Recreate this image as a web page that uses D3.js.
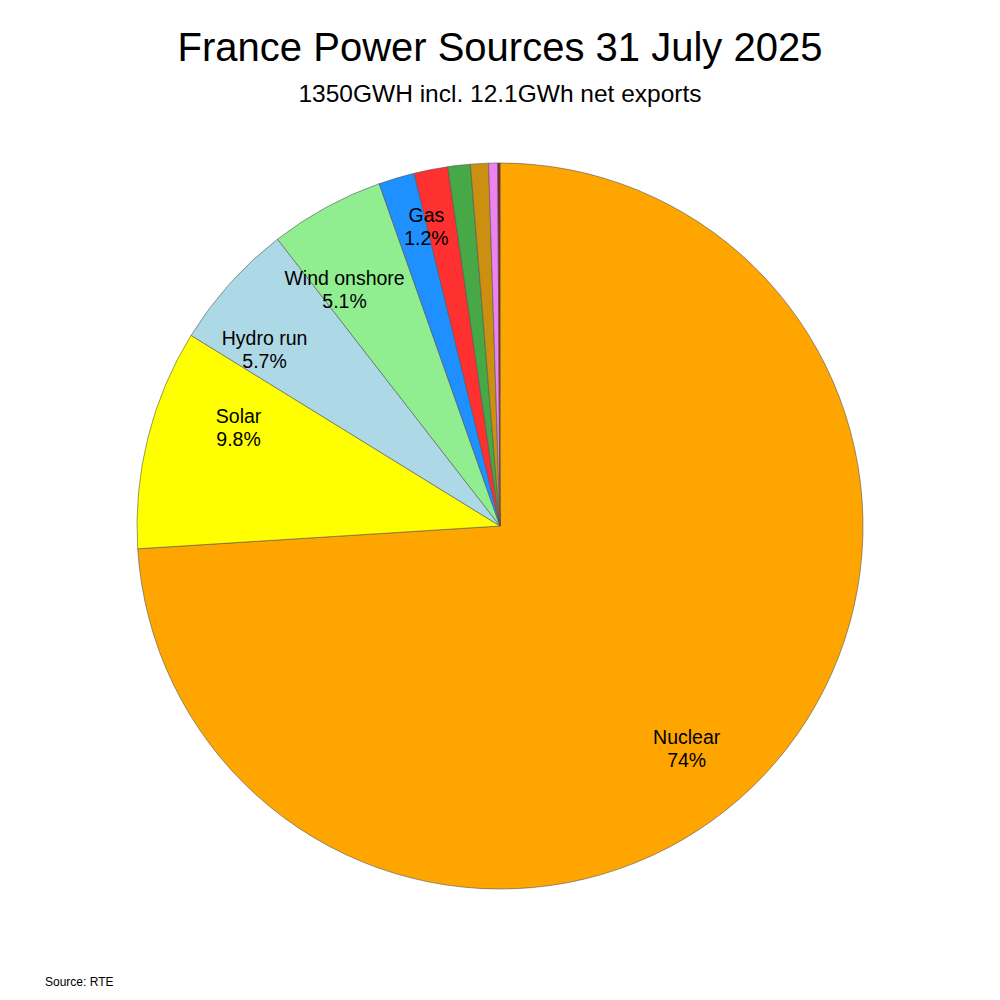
<!DOCTYPE html>
<html><head><meta charset="utf-8">
<script src="https://cdn.jsdelivr.net/npm/d3@7"></script>
<style>body{margin:0;background:#fff}text{font-family:"Liberation Sans",Arial,sans-serif}</style>
</head><body>
<svg id="chart" width="1000" height="1000"></svg>
<script>
// slices clockwise from 12 o'clock
var sources = ["Nuclear","Solar","Hydro run","Wind onshore","Gas","Gas2","Bio","Hydro lake","Other","Coal"]
var shares  = [74, 9.8, 5.7, 5.1, 1.6, 1.5, 1.0, 0.8, 0.4, 0.1]
var colors  = ["#ffa500","#ffff00","#add8e6","#90ee90","#1e90ff","#ff3030","#46a946","#cc9010","#ee82ee","#8b2020"]
var labels  = ["Nuclear\n74%","Solar\n9.8%","Hydro run\n5.7%","Wind onshore\n5.1%","Gas\n1.2%"]
var labelAngle  = [140, 290.7, 306.8, 326.7, 346.2]   // degrees clockwise from top
var labelRadius = [0.80, 0.77, 0.81, 0.78, 0.85]      // fraction of pie radius

var svg = d3.select("#chart")
var cx = 500, cy = 526, r = 363

svg.append("text").attr("x",500).attr("y",61).attr("text-anchor","middle")
  .attr("font-size","40px").text("France Power Sources 31 July 2025")
svg.append("text").attr("x",500).attr("y",102).attr("text-anchor","middle")
  .attr("font-size","24.5px").text("1350GWH incl. 12.1GWh net exports")
svg.append("text").attr("x",45).attr("y",986).attr("font-size","12px").text("Source: RTE")

var pie = d3.pie().sort(null).value(d => d)
var arcs = pie(shares)
var arc = d3.arc().innerRadius(0).outerRadius(r)

var g = svg.append("g").attr("transform","translate("+cx+","+cy+")")
g.selectAll("path").data(arcs).enter().append("path")
  .attr("d", arc)
  .attr("fill", (d,i) => colors[i])
  .attr("stroke","#555").attr("stroke-width",0.6)

labels.forEach(function(lab,i){
  var a = labelAngle[i]*Math.PI/180, rr = labelRadius[i]*r
  var x = Math.sin(a)*rr, y = -Math.cos(a)*rr
  var t = g.append("text").attr("text-anchor","middle").attr("font-size","19.5px")
  lab.split("\n").forEach(function(l,k){
    t.append("tspan").attr("x",x).attr("y",y+(k-0.5)*23+7).text(l)
  })
})
</script>
</body></html>
